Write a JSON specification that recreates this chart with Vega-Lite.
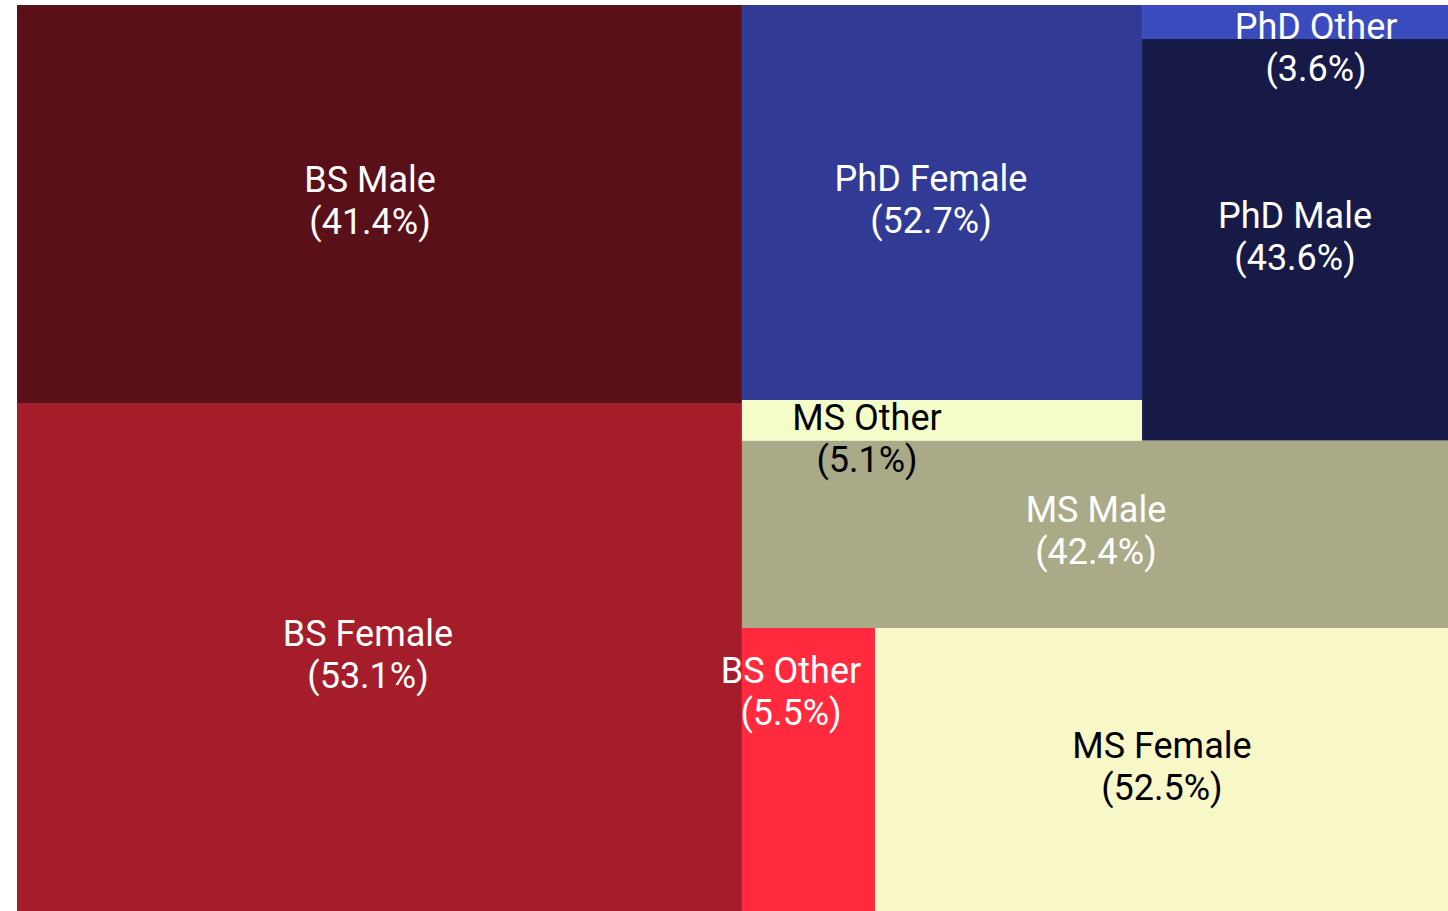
{
  "$schema": "https://vega.github.io/schema/vega-lite/v6.json",
  "width": 1448,
  "height": 911,
  "autosize": {"type": "fit", "contains": "padding"},
  "padding": {"left": 17, "top": 5, "right": 0, "bottom": 0},
  "background": "white",
  "config": {"view": {"stroke": null}},
  "data": {
    "values": [
      {"degree": "BS", "gender": "Male", "pct": 41.4, "x0": 0, "x1": 50.66, "y0": 0, "y1": 43.93, "lx": 24.67, "ly": 21.63},
      {"degree": "BS", "gender": "Female", "pct": 53.1, "x0": 0, "x1": 50.66, "y0": 43.93, "y1": 100, "lx": 24.53, "ly": 71.74},
      {"degree": "BS", "gender": "Other", "pct": 5.5, "x0": 50.66, "x1": 59.96, "y0": 68.76, "y1": 100, "lx": 54.09, "ly": 75.83},
      {"degree": "MS", "gender": "Female", "pct": 52.5, "x0": 59.96, "x1": 100, "y0": 68.76, "y1": 100, "lx": 80.01, "ly": 84.11},
      {"degree": "MS", "gender": "Male", "pct": 42.4, "x0": 50.66, "x1": 100, "y0": 48.07, "y1": 68.76, "lx": 75.4, "ly": 58.06},
      {"degree": "MS", "gender": "Other", "pct": 5.1, "x0": 50.66, "x1": 78.62, "y0": 43.6, "y1": 48.07, "lx": 59.4, "ly": 47.9},
      {"degree": "PhD", "gender": "Female", "pct": 52.7, "x0": 50.66, "x1": 78.62, "y0": 0, "y1": 43.6, "lx": 63.87, "ly": 21.52},
      {"degree": "PhD", "gender": "Male", "pct": 43.6, "x0": 78.62, "x1": 100, "y0": 3.75, "y1": 48.07, "lx": 89.31, "ly": 25.61},
      {"degree": "PhD", "gender": "Other", "pct": 3.6, "x0": 78.62, "x1": 100, "y0": 0, "y1": 3.75, "lx": 90.78, "ly": 4.75}
    ]
  },
  "transform": [
    {"calculate": "datum.degree + ' ' + datum.gender", "as": "segment"},
    {"calculate": "datum.degree + ' ' + datum.gender + '\\n(' + format(datum.pct, '.1f') + '%)'", "as": "label"}
  ],
  "layer": [
    {
      "mark": {"type": "rect", "strokeWidth": 0},
      "encoding": {
        "x": {"field": "x0", "type": "quantitative", "scale": {"domain": [0, 100], "nice": false, "zero": false}, "axis": null},
        "x2": {"field": "x1"},
        "y": {"field": "y0", "type": "quantitative", "scale": {"domain": [0, 100], "nice": false, "zero": false, "reverse": true}, "axis": null},
        "y2": {"field": "y1"},
        "color": {
          "field": "segment",
          "type": "nominal",
          "legend": null,
          "scale": {
            "domain": ["BS Male", "BS Female", "BS Other", "MS Female", "MS Male", "MS Other", "PhD Female", "PhD Male", "PhD Other"],
            "range": ["#5A1018", "#A51C2A", "#FF2A3E", "#F8F7C7", "#AAAA89", "#F4FDCA", "#313B95", "#171A47", "#3A4BBD"]
          }
        }
      }
    },
    {
      "mark": {"type": "text", "font": "Roboto", "fontSize": 36, "letterSpacing": 1.5, "lineBreak": "\n", "lineHeight": 42, "baseline": "middle", "align": "center", "dy": -20},
      "encoding": {
        "x": {"field": "lx", "type": "quantitative", "scale": {"domain": [0, 100], "nice": false, "zero": false}, "axis": null},
        "y": {"field": "ly", "type": "quantitative", "scale": {"domain": [0, 100], "nice": false, "zero": false, "reverse": true}, "axis": null},
        "text": {"field": "label", "type": "nominal"},
        "color": {"condition": {"test": "datum.degree === 'MS' && datum.gender !== 'Male'", "value": "black"}, "value": "white"}
      }
    }
  ]
}
